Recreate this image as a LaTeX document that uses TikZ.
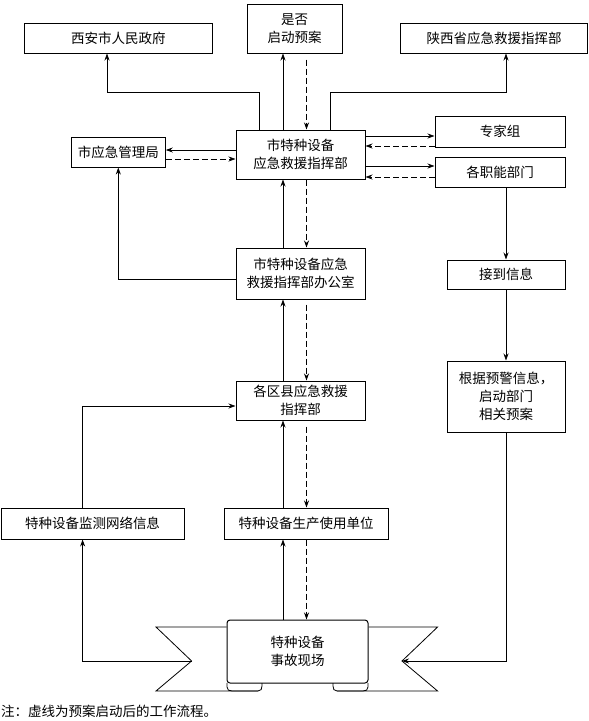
\documentclass[tikz,border=0pt]{standalone}
\usepackage{fontspec}
\newfontfamily\cjk{Noto Sans CJK SC}
\usetikzlibrary{arrows.meta,positioning}

\begin{document}
\begin{tikzpicture} [
        x = 1pt, y = -1pt,
        every node/.style = {font=\cjk\fontsize{13.5}{18}\selectfont, inner sep=1pt, align=center},
        box/.style = {draw, line width=1pt, minimum width=#1},
        arr/.style = {-{Stealth[length=7pt,width=5pt]}, line width=0.8pt},
        dsh/.style = {arr, dash pattern=on 6pt off 3pt}
    ]
    \useasboundingbox (0,0) rectangle (589,721);

    % top row
    \node (xian)    [box=188, minimum height=30] at (118.3,38)  {西安市人民政府};
    \node (qidong)  [box=95,  minimum height=49] at (294.5,28.5) {是否\\启动预案};
    \node (shaanxi) [box=187, minimum height=30] at (494,38)    {陕西省应急救援指挥部};
    % command
    \node (zhb)      [box=129, minimum height=49] at (300.5,154.5) {市特种设备\\应急救援指挥部};
    \node (yjglj)    [box=94,  minimum height=30] at (118.3,152)   {市应急管理局};
    \node (zhuanjia) [box=130, minimum height=31] at (500,131.5)   {专家组};
    \node (zhineng)  [box=130, minimum height=30] at (500,172)     {各职能部门};
    \node (bgs)      [box=129, minimum height=51] at (300.5,273.5) {市特种设备应急\\救援指挥部办公室};
    \node (jiedao)   [box=118, minimum height=29] at (506,274.5)   {接到信息};
    \node (genju)    [box=118, minimum height=71] at (506,396.5)   {根据预警信息，\\启动部门\\相关预案};
    \node (quxian)   [box=129, minimum height=39] at (300.5,400.5) {各区县应急救援\\指挥部};
    \node (jiance)    [box=183, minimum height=31] at (92.5,523.5)  {特种设备监测网络信息};
    \node (shengchan) [box=164, minimum height=31] at (306.2,523.5) {特种设备生产使用单位};
    % scene ribbon
    \node (scene) [box=141, minimum height=63, rounded corners=3pt] at (297.5,651.5) {特种设备\\事故现场};
    \draw [line width=0.8pt] (scene.west |- 0,627) -- (156,627) -- (191.6,661) -- (156,691) -- (258,691)
          .. controls (261,691) and (262,689) .. (262,686) -- (262,683);
    \draw [line width=0.8pt] (227,683) -- (227,687) .. controls (227,690) and (229,691) .. (232,691) -- (258,691);
    \draw [line width=0.8pt] (scene.east |- 0,627) -- (437.6,627) -- (402,661) -- (437.6,691) -- (337,691)
          .. controls (334,691) and (333,689) .. (333,686) -- (333,683);
    \draw [line width=0.8pt] (368,683) -- (368,687) .. controls (368,690) and (366,691) .. (363,691) -- (337,691);
    \node (note) [anchor=west] at (0,711) {注：虚线为预案启动后的工作流程。};

    % helper points
    \coordinate (sx) at (283,0);
    \coordinate (dx) at (306.5,0);
    \coordinate (xl) at (259,92);
    \coordinate (xr) at (107,92);
    \coordinate (sl) at (330,92);
    \coordinate (sr) at (506,92);
    \coordinate (jl) at (82.6,406);
    \coordinate (ln) at (191.6,661);
    \coordinate (rn) at (402,661);

    % command links
    \draw [arr] (zhb.north -| xl) -- (xl) -- (xr) -- (xr |- xian.south);
    \draw [arr] (zhb.north -| sl) -- (sl) -- (sr) -- (sr |- shaanxi.south);
    \draw [arr] (zhb.north -| sx) -- (qidong.south -| sx);
    \draw [dsh, shorten <=6pt] (qidong.south -| dx) -- (zhb.north -| dx);
    \draw [arr] (zhb.east |- 0,136) -- (zhuanjia.west |- 0,136);
    \draw [dsh] (zhuanjia.west |- 0,146) -- (zhb.east |- 0,146);
    \draw [arr] (zhb.east |- 0,166) -- (zhineng.west |- 0,166);
    \draw [dsh] (zhineng.west |- 0,177) -- (zhb.east |- 0,177);
    \draw [arr] (zhb.west |- 0,150) -- (yjglj.east |- 0,150);
    \draw [dsh] (yjglj.east |- 0,159) -- (zhb.west |- 0,159);
    % right column
    \draw [arr] (zhineng.south -| jiedao) -- (jiedao.north);
    \draw [arr] (jiedao.south) -- (genju.north);
    \draw [arr] (genju.south) |- (rn);
    % centre column
    \draw [arr] (bgs.west |- 0,279) -| (yjglj.south);
    \draw [arr] (bgs.north -| sx) -- (zhb.south -| sx);
    \draw [dsh] (zhb.south -| dx) -- (bgs.north -| dx);
    \draw [arr] (quxian.north -| sx) -- (bgs.south -| sx);
    \draw [dsh, shorten <=5pt] (bgs.south -| dx) -- (quxian.north -| dx);
    \draw [arr] (shengchan.north -| sx) -- (quxian.south -| sx);
    \draw [dsh, shorten <=6pt] (quxian.south -| dx) -- (shengchan.north -| dx);
    \draw [arr] (scene.north -| sx) -- (shengchan.south -| sx);
    \draw [dsh] (shengchan.south -| dx) -- (scene.north -| dx);
    % left column
    \draw [arr] (jiance.north -| jl) |- (quxian.west |- jl);
    \draw [arr] (ln) -| (jiance.south -| jl);

\end{tikzpicture}
\end{document}
